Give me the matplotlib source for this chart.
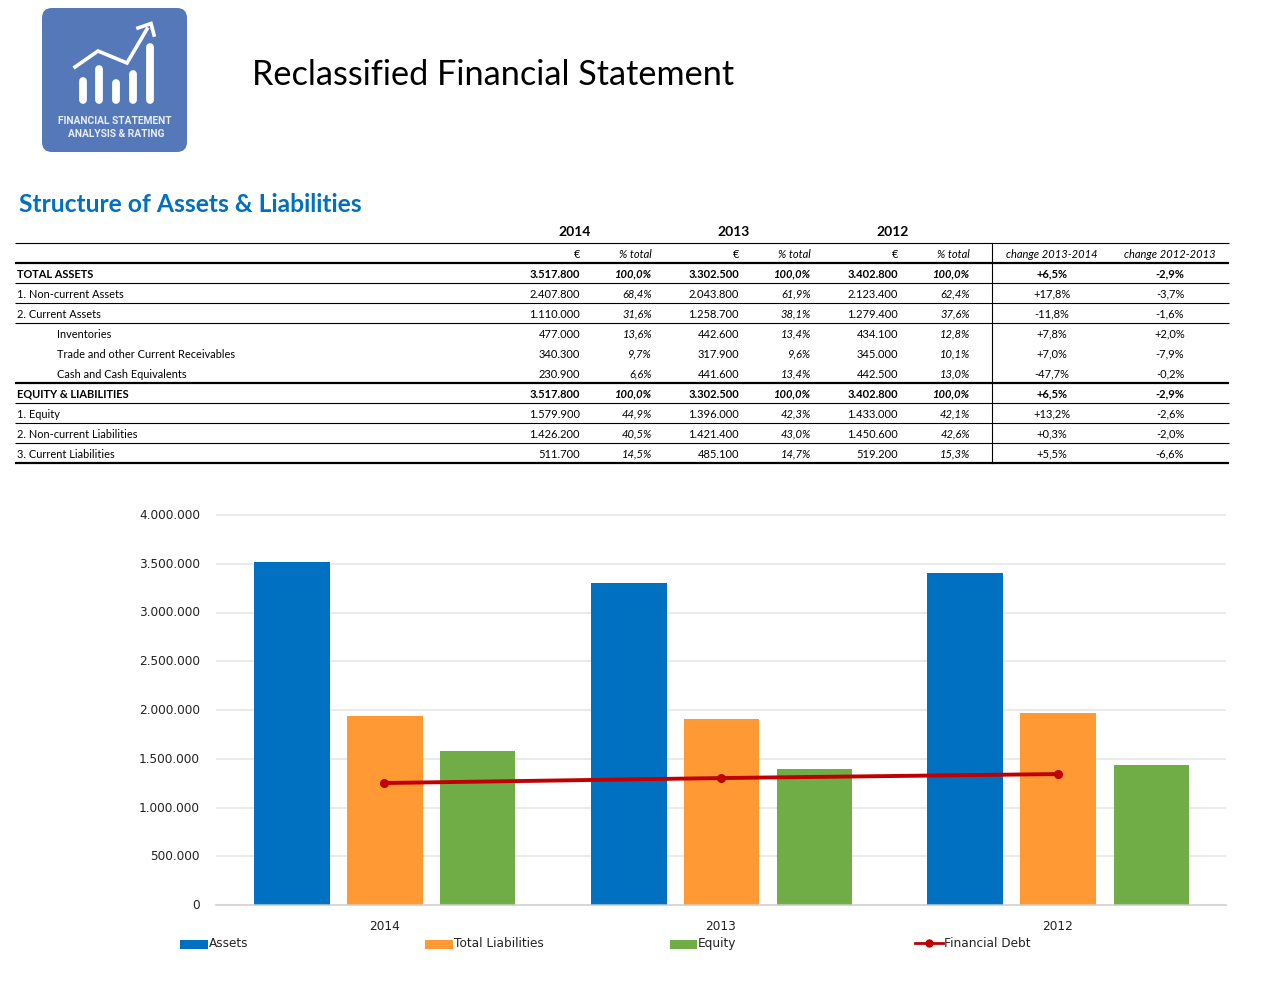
import matplotlib
matplotlib.use("Agg")
import matplotlib.pyplot as plt
import numpy as np
from matplotlib.patches import FancyBboxPatch, Rectangle
from matplotlib.transforms import ScaledTranslation

# chart data
years = ["2014", "2013", "2012"]
assets = [3517800, 3302500, 3402800]
total_liabilities = [1937900, 1906500, 1969800]
equity = [1579900, 1396000, 1433000]
financial_debt = [1251000, 1302000, 1343000]
y_ticks = [0, 500000, 1000000, 1500000, 2000000, 2500000, 3000000, 3500000, 4000000]

# table data
row_labels = ["TOTAL ASSETS", "1. Non-current Assets", "2. Current Assets", "Inventories",
              "Trade and other Current Receivables", "Cash and Cash Equivalents",
              "EQUITY & LIABILITIES", "1. Equity", "2. Non-current Liabilities", "3. Current Liabilities"]
col_headers = ["€", "% total", "€", "% total", "€", "% total", "change 2013-2014", "change 2012-2013"]
table_rows = [
    ["3.517.800", "100,0%", "3.302.500", "100,0%", "3.402.800", "100,0%", "+6,5%", "-2,9%"],
    ["2.407.800", "68,4%", "2.043.800", "61,9%", "2.123.400", "62,4%", "+17,8%", "-3,7%"],
    ["1.110.000", "31,6%", "1.258.700", "38,1%", "1.279.400", "37,6%", "-11,8%", "-1,6%"],
    ["477.000", "13,6%", "442.600", "13,4%", "434.100", "12,8%", "+7,8%", "+2,0%"],
    ["340.300", "9,7%", "317.900", "9,6%", "345.000", "10,1%", "+7,0%", "-7,9%"],
    ["230.900", "6,6%", "441.600", "13,4%", "442.500", "13,0%", "-47,7%", "-0,2%"],
    ["3.517.800", "100,0%", "3.302.500", "100,0%", "3.402.800", "100,0%", "+6,5%", "-2,9%"],
    ["1.579.900", "44,9%", "1.396.000", "42,3%", "1.433.000", "42,1%", "+13,2%", "-2,6%"],
    ["1.426.200", "40,5%", "1.421.400", "43,0%", "1.450.600", "42,6%", "+0,3%", "-2,0%"],
    ["511.700", "14,5%", "485.100", "14,7%", "519.200", "15,3%", "+5,5%", "-6,6%"],
]
bold_rows = [0, 6]
indent_rows = [3, 4, 5]

BLUE = "#0070C0"
ORANGE = "#FF9933"
GREEN = "#70AD47"
RED = "#C00000"
W, H = 1272, 991

fig = plt.figure(figsize=(W / 100, H / 100), dpi=100, facecolor="white")

# page layer in pixel coordinates
page = fig.add_axes([0, 0, 1, 1])
page.set_xlim(0, W)
page.set_ylim(H, 0)
page.axis("off")

# logo
page.add_patch(FancyBboxPatch((52, 18), 125, 124, boxstyle="round,pad=10,rounding_size=10", fc="#5578B8", ec="none"))
for x, top in zip([82.5, 99, 116, 133, 150], [81, 69, 83, 74, 47]):
    page.plot([x, x], [top, 100], color="white", lw=5.6, solid_capstyle="round")
page.plot([75, 98, 127, 147], [67, 51, 63, 29], color="white", lw=2.6, solid_joinstyle="miter")
page.plot([138, 151, 154], [28, 23.5, 35], color="white", lw=2.6, solid_joinstyle="miter")
page.text(115, 121, "FINANCIAL STATEMENT", color="#E8EDF6", fontsize=7.4, fontweight="bold",
          family="Roboto", ha="center", va="center")
page.text(116, 134, "ANALYSIS & RATING", color="#E8EDF6", fontsize=7.4, fontweight="bold",
          family="Roboto", ha="center", va="center")

# titles
page.text(252, 75, "Reclassified Financial Statement", fontsize=24.7, family="Lato", color="black", va="center")
page.text(19, 205, "Structure of Assets & Liabilities", fontsize=17.7, family="Lato", fontweight="bold", color=BLUE, va="center")

# table
col_x = [580, 652, 739, 811, 898, 970, 1052, 1170]
row_y = [274, 294, 314, 334, 354, 374, 394, 414, 434, 454]
for x, year in zip([575, 734, 893], years):
    page.text(x, 232, year, fontsize=10, fontweight="bold", family="Lato", ha="center", va="center")
for i, (x, head) in enumerate(zip(col_x, col_headers)):
    page.text(x, 254, head, fontsize=8, family="Lato", style="normal" if head == "€" else "italic",
              ha="center" if i > 5 else "right", va="center")
for r, (y, label, vals) in enumerate(zip(row_y, row_labels, table_rows)):
    weight = "bold" if r in bold_rows else "normal"
    page.text(57 if r in indent_rows else 17, y, label, fontsize=7.9, family="Lato", fontweight=weight, va="center")
    for i, (x, val) in enumerate(zip(col_x, vals)):
        page.text(x, y, val, fontsize=8, family="Lato", fontweight=weight,
                  style="italic" if i in (1, 3, 5) else "normal",
                  ha="center" if i > 5 else "right", va="center")
for y, lw in [(243, 0.8), (263, 1.6), (283, 0.8), (303, 0.8), (323, 0.8), (383, 1.6),
              (403, 0.8), (423, 0.8), (443, 0.8), (463, 1.6)]:
    page.plot([15, 1229], [y, y], color="black", lw=lw, solid_capstyle="butt")
page.plot([992, 992], [243, 463], color="black", lw=0.8)

# legend row
for x, x2, name, color in [(180, 208, "Assets", BLUE), (425, 453, "Total Liabilities", ORANGE), (670, 697, "Equity", GREEN)]:
    page.add_patch(Rectangle((x, 940), x2 - x, 9, fc=color, ec="none"))
    page.text(x2 + 1, 947, name, fontsize=8.7, va="baseline", color="#222222")
page.plot([915, 943], [943, 943], color=RED, lw=2)
page.plot([929], [943], "o", color=RED, ms=5)
page.text(944, 947, "Financial Debt", fontsize=8.7, va="baseline", color="#222222")

# bar chart
ax = fig.add_axes([216 / W, (H - 905) / H, 1010 / W, 390 / H])
pos = np.arange(len(years))
ax.bar(pos - 0.2745, assets, 0.2257, color=BLUE, zorder=2)
ax.bar(pos + 0.0015, total_liabilities, 0.2257, color=ORANGE, zorder=2)
ax.bar(pos + 0.2775, equity, 0.223, color=GREEN, zorder=2)
ax.plot(pos, financial_debt, color=RED, lw=2.8, marker="o", ms=5.5, zorder=3)
ax.set_xlim(-0.5, 2.5)
ax.set_ylim(0, 4000000)
ax.set_xticks(pos, years)
ax.set_yticks(y_ticks, [f"{v:,}".replace(",", ".") for v in y_ticks])
ax.tick_params(axis="both", length=0, labelsize=8.7, labelcolor="#222222")
ax.tick_params(axis="y", pad=11.5)
ax.tick_params(axis="x", pad=10.7)
shift_up = ScaledTranslation(0, 1 / 100, fig.dpi_scale_trans)
for lab in ax.get_yticklabels():
    lab.set_transform(lab.get_transform() + shift_up)
ax.grid(axis="y", color="#E6E6E6", lw=1.2, zorder=0)
for gl in ax.get_ygridlines():
    gl.set_clip_on(False)
    gl.set_solid_capstyle("butt")
ax.set_axisbelow(True)
for s in ["top", "left", "right"]:
    ax.spines[s].set_visible(False)
ax.spines["bottom"].set_color("#D0D0D0")
ax.spines["bottom"].set_linewidth(1.5)
ax.spines["bottom"].set_alpha(0.7)
ax.spines["bottom"].set_zorder(4)
ax.patch.set_alpha(0)

fig.savefig("out.png", dpi=100)
plt.close(fig)
